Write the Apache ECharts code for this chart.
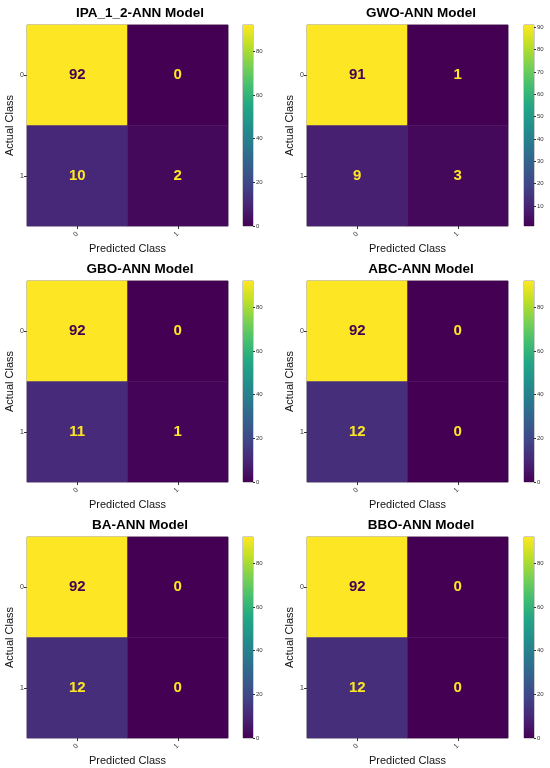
<!DOCTYPE html>
<html>
<head>
<meta charset="utf-8">
<script src="https://cdn.jsdelivr.net/npm/echarts@6/dist/echarts.min.js"></script>
<style>
  html, body { margin: 0; padding: 0; background: #fff; }
  #main { width: 550px; height: 768px; }
</style>
</head>
<body>
<div id="main"></div>
<script>
// class labels for both axes
var classLabels = ['0', '1'];

// model titles, in panel order (row by row)
var modelNames = ['IPA_1_2-ANN Model', 'GWO-ANN Model', 'GBO-ANN Model', 'ABC-ANN Model', 'BA-ANN Model', 'BBO-ANN Model'];

// confusion matrices [actual][predicted]
var ipaMatrix = [[92, 0], [10, 2]];
var gwoMatrix = [[91, 1], [9, 3]];
var gboMatrix = [[92, 0], [11, 1]];
var abcMatrix = [[92, 0], [12, 0]];
var baMatrix = [[92, 0], [12, 0]];
var bboMatrix = [[92, 0], [12, 0]];
var matrices = [ipaMatrix, gwoMatrix, gboMatrix, abcMatrix, baMatrix, bboMatrix];

// colorbar tick labels
var defaultTicks = [0, 20, 40, 60, 80];
var gwoTicks = [10, 20, 30, 40, 50, 60, 70, 80, 90];
var colorbarTicks = [defaultTicks, gwoTicks, defaultTicks, defaultTicks, defaultTicks, defaultTicks];

// viridis
var viridis = ['#440154', '#482475', '#414487', '#355f8d', '#2a788e', '#21918c',
               '#22a884', '#44bf70', '#7ad151', '#bddf26', '#fde725'];

var colLeft = [27, 307];
var cbLeft = [243, 524];
var titleX = [135, 416];
var rowTop = [25, 281, 537];
var titleTop = [1, 257, 513];
var cellSize = 201;

var option = {
    backgroundColor: '#fff',
    animation: false,
    title: [],
    grid: [],
    xAxis: [],
    yAxis: [],
    visualMap: [],
    series: []
};

for (var p = 0; p < matrices.length; p++) {
    var col = p % 2;
    var row = Math.floor(p / 2);
    var m = matrices[p];
    var vals = [m[0][0], m[0][1], m[1][0], m[1][1]];
    var vmin = Math.min.apply(null, vals);
    var vmax = Math.max.apply(null, vals);
    var mid = (vmin + vmax) / 2;

    option.title.push({
        text: modelNames[p],
        left: titleX[col],
        top: titleTop[row],
        textAlign: 'center',
        textStyle: { fontFamily: 'Liberation Sans', fontWeight: 'bold', fontSize: 13.5, color: '#000' }
    });

    // heatmap grid
    option.grid.push({
        left: colLeft[col], top: rowTop[row], width: cellSize, height: cellSize,
        show: true, borderColor: '#333', borderWidth: 0.6, backgroundColor: 'transparent'
    });
    // colorbar grid
    option.grid.push({
        left: cbLeft[col], top: rowTop[row], width: 10, height: cellSize,
        show: true, borderColor: '#555', borderWidth: 0.6, backgroundColor: 'transparent'
    });

    var hg = p * 2, cg = p * 2 + 1;

    option.xAxis.push({
        type: 'category', gridIndex: hg, data: classLabels,
        name: 'Predicted Class', nameLocation: 'middle', nameGap: 17,
        nameTextStyle: { fontFamily: 'Liberation Sans', fontSize: 11, color: '#111' },
        axisLine: { show: false },
        axisTick: { show: true, alignWithLabel: true, length: 3, lineStyle: { color: '#333' } },
        axisLabel: { rotate: 45, fontSize: 7, color: '#333', margin: 7 },
        splitLine: { show: false }
    });
    option.yAxis.push({
        type: 'category', gridIndex: hg, data: classLabels, inverse: true,
        name: 'Actual Class', nameLocation: 'middle', nameGap: 12,
        nameTextStyle: { fontFamily: 'Liberation Sans', fontSize: 11, color: '#111' },
        axisLine: { show: false },
        axisTick: { show: true, alignWithLabel: true, length: 3, lineStyle: { color: '#333' } },
        axisLabel: { fontSize: 7, color: '#333', margin: 3 },
        splitLine: { show: false }
    });

    // colorbar axes
    option.xAxis.push({
        type: 'category', gridIndex: cg, data: [''],
        axisLine: { show: false }, axisTick: { show: false }, axisLabel: { show: false }
    });
    option.yAxis.push({
        type: 'value', gridIndex: cg, position: 'right', min: vmin, max: vmax,
        axisLine: { show: false },
        axisTick: { show: true, length: 2, customValues: colorbarTicks[p], lineStyle: { color: '#333' } },
        axisLabel: { fontSize: 6, color: '#333', margin: 3, customValues: colorbarTicks[p] },
        splitLine: { show: false }
    });

    var data = [];
    for (var a = 0; a < 2; a++) {
        for (var pr = 0; pr < 2; pr++) {
            var v = m[a][pr];
            data.push({
                value: [pr, a, v],
                label: { color: v > mid ? viridis[0] : viridis[10] }
            });
        }
    }

    option.visualMap.push({
        type: 'continuous', show: false, min: vmin, max: vmax,
        seriesIndex: p * 2, dimension: 2,
        inRange: { color: viridis }
    });

    option.series.push({
        type: 'heatmap', xAxisIndex: hg, yAxisIndex: hg, data: data,
        label: { show: true, fontFamily: 'Liberation Sans', fontWeight: 'bold', fontSize: 15 },
        itemStyle: { borderWidth: 0 }
    });

    var stops = viridis.map(function (c, i) { return { offset: i / (viridis.length - 1), color: c }; });
    option.series.push({
        type: 'bar', xAxisIndex: cg, yAxisIndex: cg, data: [vmax], barWidth: '100%',
        silent: true,
        itemStyle: {
            color: { type: 'linear', x: 0, y: 1, x2: 0, y2: 0, colorStops: stops }
        }
    });
}

var chart = echarts.init(document.getElementById('main'));
chart.setOption(option);
</script>
</body>
</html>
